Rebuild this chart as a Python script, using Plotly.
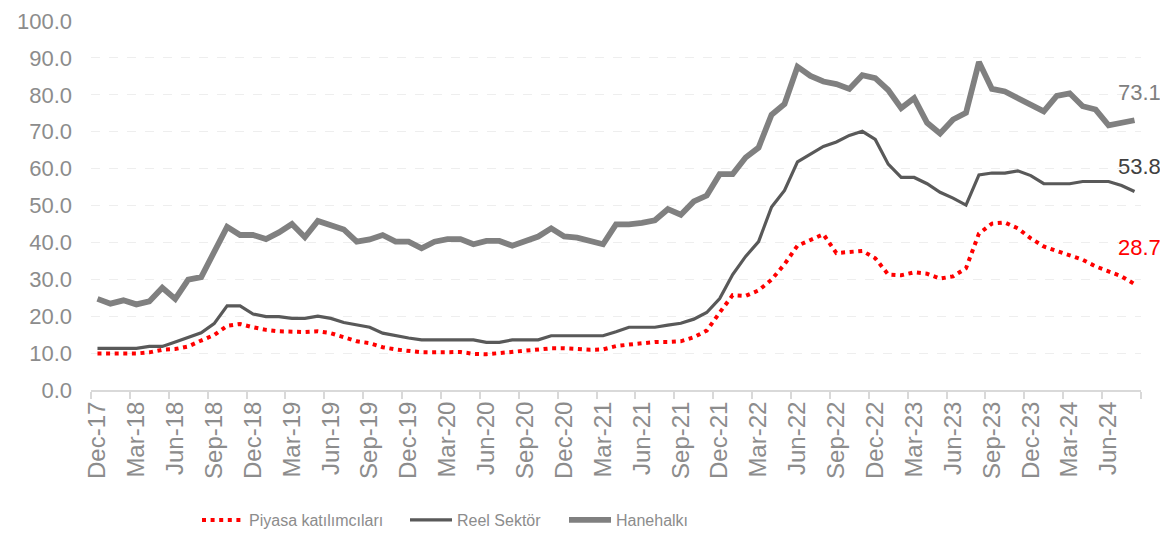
import plotly.graph_objects as go

months = [f"{m}-{y:02d}" for y, ms in [(17, ["Dec"])] + [(yy, ["Jan","Feb","Mar","Apr","May","Jun","Jul","Aug","Sep","Oct","Nov","Dec"]) for yy in range(18, 24)] + [(24, ["Jan","Feb","Mar","Apr","May","Jun","Jul","Aug"])] for m in ms]

piyasa = [9.9, 9.9, 9.9, 9.9, 10.2, 10.9, 11.1, 11.8, 13.4, 14.9,
          17.4, 17.9, 17.0, 16.3, 15.9, 15.7, 15.7, 15.9, 15.4, 14.3,
          13.2, 12.7, 11.6, 11.0, 10.5, 10.2, 10.2, 10.2, 10.3, 9.8,
          9.7, 10.0, 10.3, 10.7, 11.0, 11.3, 11.3, 11.0, 10.9, 11.0,
          11.9, 12.3, 12.7, 13.0, 13.0, 13.2, 14.3, 16.1, 21.0, 25.7,
          25.5, 27.0, 29.9, 34.1, 39.1, 40.7, 42.2, 37.1, 37.3, 37.7,
          35.7, 31.3, 31.1, 31.9, 31.5, 30.2, 30.8, 33.0, 42.4, 45.1,
          45.4, 43.8, 41.1, 38.9, 37.7, 36.6, 35.3, 33.5, 32.2, 30.8,
          28.7]

reel = [11.3, 11.3, 11.3, 11.3, 11.8, 11.8, 13.0, 14.3, 15.5, 18.0,
        22.8, 22.8, 20.6, 19.9, 19.9, 19.4, 19.4, 20.0, 19.4, 18.3,
        17.7, 17.0, 15.4, 14.7, 14.1, 13.6, 13.6, 13.6, 13.6, 13.6,
        12.9, 12.9, 13.6, 13.6, 13.6, 14.7, 14.7, 14.7, 14.7, 14.7,
        15.8, 17.0, 17.0, 17.0, 17.6, 18.1, 19.2, 21.0, 24.8, 31.3,
        36.2, 40.2, 49.6, 54.1, 61.8, 63.9, 66.0, 67.2, 69.0, 70.1,
        67.9, 61.2, 57.6, 57.6, 55.9, 53.6, 52.0, 50.1, 58.3, 58.8,
        58.8, 59.4, 58.1, 55.9, 55.9, 55.9, 56.5, 56.5, 56.5, 55.4,
        53.8]

hane = [24.7, 23.4, 24.3, 23.2, 24.0, 27.7, 24.7, 29.9, 30.6, 37.5,
        44.2, 42.0, 42.0, 40.9, 42.7, 45.0, 41.4, 45.8, 44.7, 43.5,
        40.2, 40.8, 42.0, 40.2, 40.2, 38.4, 40.2, 40.9, 40.9, 39.5,
        40.4, 40.4, 39.1, 40.4, 41.6, 43.8, 41.6, 41.3, 40.2, 39.5,
        44.9, 44.9, 45.3, 46.0, 49.0, 47.5, 51.1, 52.7, 58.5, 58.5,
        63.0, 65.7, 74.6, 77.5, 87.6, 85.1, 83.6, 82.9, 81.6, 85.3,
        84.5, 81.3, 76.4, 79.1, 72.4, 69.5, 73.3, 75.1, 88.9, 81.6,
        80.9, 79.1, 77.3, 75.5, 79.7, 80.4, 76.9, 76.0, 71.7, 72.4,
        73.1]

idx = list(range(len(months)))
tick_idx = idx[::3]
tick_text = [months[i] for i in tick_idx]

FONT = "Liberation Sans, Arial, sans-serif"

fig = go.Figure()
fig.add_trace(go.Scatter(x=idx, y=piyasa, mode="lines", name="Piyasa katılımcıları",
                         legend="legend",
                         customdata=months, hovertemplate="%{customdata}: %{y:.1f}",
                         line=dict(color="#ff0000", width=4, dash="4px,4.6px")))
fig.add_trace(go.Scatter(x=idx, y=reel, mode="lines", name="Reel Sektör",
                         legend="legend2",
                         customdata=months, hovertemplate="%{customdata}: %{y:.1f}",
                         line=dict(color="#595959", width=3.2)))
fig.add_trace(go.Scatter(x=idx, y=hane, mode="lines", name="Hanehalkı",
                         legend="legend3",
                         customdata=months, hovertemplate="%{customdata}: %{y:.1f}",
                         line=dict(color="#808080", width=5.8)))

last = len(months) - 1
for vals, col, ys in [(hane, "#808080", 28), (reel, "#404040", 25), (piyasa, "#ff0000", 37)]:
    fig.add_annotation(x=last, y=vals[-1], text=f"{vals[-1]:.1f}", showarrow=False,
                       xanchor="center", yanchor="middle", xshift=5, yshift=ys,
                       font=dict(family=FONT, size=22, color=col))


def leg(xpx):
    return dict(orientation="h", xref="container", x=xpx / 1168, xanchor="left",
                yref="container", y=1 - 512 / 538, yanchor="middle", itemwidth=42,
                font=dict(family=FONT, size=16, color="#8c8c8c"),
                bgcolor="rgba(0,0,0,0)")


fig.update_layout(
    width=1168, height=538,
    margin=dict(l=83, r=35, t=13, b=156, autoexpand=False),
    paper_bgcolor="white", plot_bgcolor="white",
    font=dict(family=FONT, color="#8c8c8c"),
    showlegend=True,
    legend=leg(189), legend2=leg(397), legend3=leg(556),
)
fig.update_xaxes(
    range=[-0.5, last + 0.5], automargin=False,
    tickmode="array", tickvals=tick_idx, ticktext=tick_text, tickangle=-90,
    ticks="", showgrid=False, zeroline=False,
    showline=True, linecolor="#d9d9d9", linewidth=2,
    tickfont=dict(family=FONT, size=24, color="#8c8c8c"),
    minor=dict(tickvals=[i - 0.5 for i in idx[::3]] + [last + 0.5], ticks="outside",
               ticklen=7, tickcolor="#d9d9d9", tickwidth=2, showgrid=False),
)
fig.update_yaxes(
    range=[0, 100], dtick=10, tickformat=".1f", automargin=False,
    ticklabeloverflow="allow",
    showgrid=True, gridcolor="#eeeeee", griddash="dash", gridwidth=1,
    zeroline=False, showline=False, ticks="", ticklabelstandoff=18,
    tickfont=dict(family=FONT, size=22, color="#8c8c8c"),
)

fig.write_html("out.html")
